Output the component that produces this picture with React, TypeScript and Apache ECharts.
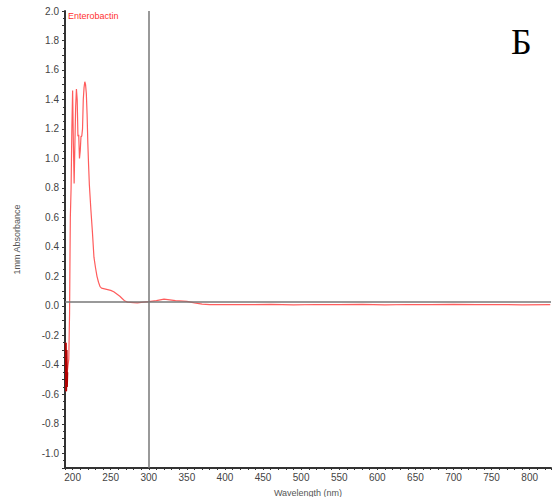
import React, { useEffect, useRef } from "react";
import * as echarts from "echarts";

const wavelengths = [
  191, 191.5, 192, 192.5, 193, 194, 195, 195.5, 196, 196.5, 197, 198, 199, 200,
  201, 202, 203, 204, 205, 206, 207, 208, 209, 210, 211, 212, 213, 214, 215, 216,
  217, 218, 219, 220, 221, 222, 224, 226, 228, 230, 232, 234, 236, 238, 242, 246,
  250, 254, 258, 262, 265, 268, 272, 280, 285, 290, 300, 310, 320, 325, 335, 350,
  360, 370, 380, 400, 430, 460, 490, 520, 550, 580, 610, 640, 670, 700, 730, 760,
  790, 827,
];
const absorbance = [
  -0.25, -0.58, -0.3, -0.55, -0.45, -0.4, -0.36, -0.2, -0.05, 0.3, 0.6, 0.8, 1.2,
  1.46, 1.1, 0.83, 1.1, 1.35, 1.47, 1.4, 1.15, 1.16, 1.0, 1.05, 1.15, 1.15, 1.2,
  1.4, 1.48, 1.52, 1.5, 1.44, 1.3, 1.1, 0.95, 0.82, 0.65, 0.5, 0.33, 0.26, 0.2,
  0.16, 0.13, 0.12, 0.115, 0.11, 0.105, 0.095, 0.08, 0.065, 0.05, 0.035, 0.025,
  0.022, 0.02, 0.023, 0.028, 0.035, 0.045, 0.042, 0.035, 0.03, 0.02, 0.012, 0.008,
  0.009, 0.008, 0.01, 0.007, 0.009, 0.008, 0.01, 0.007, 0.009, 0.008, 0.01, 0.008,
  0.009, 0.007, 0.008,
];
const darkWavelengths = [191, 191.5, 192, 192.5, 193];
const darkAbsorbance = [-0.25, -0.58, -0.3, -0.55, -0.45];
const cursorX = 300;
const cursorY = 0.03;
const seriesName = "Enterobactin";
const panelLetter = "Б";

export default function App() {
  const ref = useRef<HTMLDivElement>(null);
  useEffect(() => {
    if (!ref.current) return;
    const chart = echarts.init(ref.current, null, { renderer: "svg" });
    const axisColor = "#444";
    const font = "'Liberation Sans', Arial, sans-serif";
    chart.setOption({
      animation: false,
      grid: { left: 65, right: 1, top: 11, bottom: 29, containLabel: false, outerBoundsMode: "none" },
      xAxis: {
        type: "value",
        min: 190,
        max: 828,
        interval: 10,
        name: "Wavelength (nm)",
        nameLocation: "middle",
        nameGap: 20,
        nameTextStyle: { color: "#555", fontSize: 9, fontFamily: font },
        axisLine: { onZero: false, lineStyle: { color: "#333", width: 2 } },
        axisTick: { show: true, length: 2, lineStyle: { color: "#333" } },
        axisLabel: {
          color: axisColor,
          fontSize: 10,
          fontFamily: font,
          margin: 4,
          formatter: (v: number) => (Math.round(v) % 50 === 0 ? String(Math.round(v)) : ""),
        },
        splitLine: { show: false },
      },
      yAxis: {
        type: "value",
        min: -1.1,
        max: 2.0,
        interval: 0.1,
        name: "1mm Absorbance",
        nameLocation: "middle",
        nameGap: 44,
        nameTextStyle: { color: "#555", fontSize: 9, fontFamily: font },
        axisLine: { show: true, onZero: false, lineStyle: { color: "#333", width: 2 } },
        axisTick: { show: true, length: 3, lineStyle: { color: "#333" } },
        minorTick: { show: true, splitNumber: 2, length: 2, lineStyle: { color: "#333" } },
        axisLabel: {
          color: axisColor,
          fontSize: 10,
          fontFamily: font,
          margin: 6,
          formatter: (v: number) => {
            const t = Math.round(v * 10);
            return t % 2 === 0 ? (t / 10).toFixed(1) : "";
          },
        },
        splitLine: { show: false },
      },
      series: [
        {
          type: "line",
          name: seriesName,
          data: wavelengths.map((w, i) => [w, absorbance[i]]),
          showSymbol: false,
          lineStyle: { color: "#ff5c5c", width: 1.2 },
          markLine: {
            silent: true,
            symbol: "none",
            label: { show: false },
            lineStyle: { color: "#777", width: 1.5, type: "solid" },
            data: [{ xAxis: cursorX }, { yAxis: cursorY }],
          },
        },
        {
          type: "line",
          data: darkWavelengths.map((w, i) => [w, darkAbsorbance[i]]),
          showSymbol: false,
          lineStyle: { color: "#b00000", width: 2 },
        },
      ],
      graphic: [
        {
          type: "text",
          left: 68,
          top: 11,
          style: { text: seriesName, fill: "#ff3030", fontSize: 9, fontFamily: font },
        },
        {
          type: "text",
          left: 511,
          top: 24,
          style: {
            text: panelLetter,
            fill: "#000",
            fontSize: 36,
            fontFamily: "'Liberation Serif', 'DejaVu Serif', serif",
          },
        },
      ],
    });
    return () => chart.dispose();
  }, []);
  return <div ref={ref} style={{ width: 552, height: 497, position: "absolute", left: 0, top: 0 }} />;
}
